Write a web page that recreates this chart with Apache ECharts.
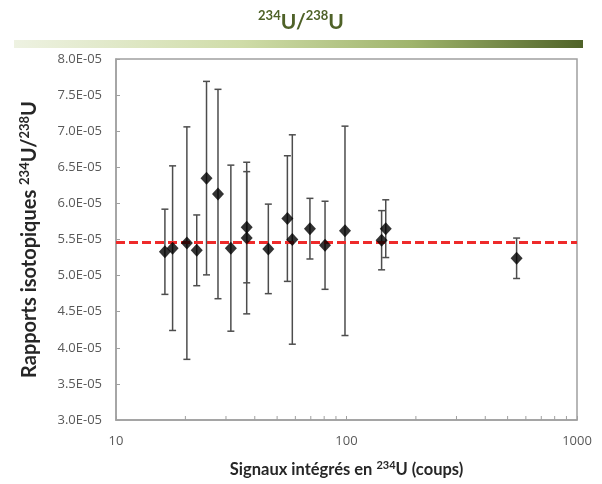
<!DOCTYPE html>
<html>
<head>
<meta charset="utf-8">
<script src="https://cdn.jsdelivr.net/npm/echarts@6/dist/echarts.min.js"></script>
<style>html,body{margin:0;padding:0;background:#fff}#c{width:602px;height:484px}</style>
</head>
<body>
<div id="c"></div>
<script>
// Signal (counts) for each measurement
const signals = [16.3, 17.6, 20.3, 22.4, 24.7, 27.7, 31.5, 36.9, 36.9, 45.8, 55.4, 58.2, 69.4, 80.7, 98.5, 142, 148, 547];
// 234U/238U ratios, in units of 1E-05
const ratios = [5.33, 5.38, 5.45, 5.35, 6.35, 6.13, 5.38, 5.67, 5.52, 5.37, 5.79, 5.50, 5.65, 5.42, 5.62, 5.49, 5.65, 5.24];
// error half-width, in units of 1E-05
const errors = [0.59, 1.14, 1.61, 0.49, 1.34, 1.45, 1.15, 0.77, 1.05, 0.62, 0.87, 1.45, 0.42, 0.61, 1.45, 0.41, 0.40, 0.28];
// mean ratio (red dashed line), units of 1E-05
const meanRatio = 5.46;
// x axis minor tick values
const xMinorTicks = [20, 30, 40, 50, 60, 70, 80, 90, 200, 300, 400, 500, 600, 700, 800, 900];
const UNIT = 1e-5;

const pts = signals.map((s, i) => [s, ratios[i] * UNIT]);
const bars = signals.map((s, i) => [s, (ratios[i] - errors[i]) * UNIT, (ratios[i] + errors[i]) * UNIT]);

const chart = echarts.init(document.getElementById('c'));
const titleFont = 'Lato, "Open Sans", sans-serif';
chart.setOption({
  animation: false,
  title: {
    left: 'center', top: 4,
    text: '{s|234}{b|U/}{s|238}{b|U}',
    textStyle: {
      rich: {
        b: {fontSize: 21, fontWeight: 'bold', color: '#4f6228', fontFamily: titleFont, lineHeight: 26},
        s: {fontSize: 13, fontWeight: 'bold', color: '#4f6228', fontFamily: titleFont, lineHeight: 15, verticalAlign: 'top'}
      }
    }
  },
  graphic: [{
    type: 'rect', left: 14, top: 40, z: 0,
    shape: {width: 569, height: 8},
    style: {fill: new echarts.graphic.LinearGradient(0, 0, 1, 0, [
      {offset: 0, color: '#eef2e2'},
      {offset: 0.4, color: '#cfdca8'},
      {offset: 0.7, color: '#9fb46c'},
      {offset: 1, color: '#4f6228'}
    ])}
  }],
  grid: {left: 116, right: 25, top: 59, bottom: 64, show: true, borderColor: '#a0a0a0', borderWidth: 1.5, containLabel: false},
  xAxis: {
    type: 'log', logBase: 10, min: 10, max: 1000,
    axisLine: {show: true, lineStyle: {color: '#a0a0a0', width: 1.5}},
    axisTick: {show: true, inside: true, length: 4, lineStyle: {color: '#a0a0a0'}},
    splitLine: {show: false},
    axisLabel: {color: '#595959', fontSize: 13, fontFamily: '"Open Sans", sans-serif', margin: 15,
      formatter: v => String(Math.round(v))},
    name: '{b|Signaux intégrés en }{s|234}{b|U (coups)}',
    nameLocation: 'middle', nameGap: 40,
    nameTextStyle: {
      rich: {
        b: {fontSize: 16.5, fontWeight: 'bold', color: '#262626', fontFamily: titleFont, lineHeight: 20},
        s: {fontSize: 11, fontWeight: 'bold', color: '#262626', fontFamily: titleFont, lineHeight: 12, verticalAlign: 'top'}
      }
    }
  },
  yAxis: {
    type: 'value', min: 3.0e-5, max: 8.0e-5, interval: 0.5e-5,
    axisLine: {show: true, lineStyle: {color: '#a0a0a0', width: 1.5}},
    axisTick: {show: true, inside: true, length: 4, lineStyle: {color: '#a0a0a0'}},
    splitLine: {show: false},
    axisLabel: {
      color: '#595959', fontSize: 13, fontFamily: '"Open Sans", sans-serif', margin: 14,
      formatter: v => (v / UNIT).toFixed(1) + 'E-05'
    },
    name: '{b|Rapports isotopiques }{s|234}{b|U/}{s|238}{b|U}',
    nameLocation: 'middle', nameRotate: 90, nameGap: 74,
    nameTextStyle: {
      rich: {
        b: {fontSize: 20, fontWeight: 'bold', color: '#262626', fontFamily: titleFont, lineHeight: 24},
        s: {fontSize: 13, fontWeight: 'bold', color: '#262626', fontFamily: titleFont, lineHeight: 14, verticalAlign: 'top'}
      }
    }
  },
  series: [
    {
      type: 'custom', z: 1, silent: true,
      data: bars,
      encode: {x: 0, y: [1, 2]},
      renderItem: function (params, api) {
        const x = api.value(0);
        const pLo = api.coord([x, api.value(1)]);
        const pHi = api.coord([x, api.value(2)]);
        const w = 3.5;
        const st = {stroke: '#4d4d4d', lineWidth: 1.5};
        return {type: 'group', children: [
          {type: 'line', shape: {x1: pLo[0], y1: pLo[1], x2: pHi[0], y2: pHi[1]}, style: st},
          {type: 'line', shape: {x1: pLo[0] - w, y1: pLo[1], x2: pLo[0] + w, y2: pLo[1]}, style: st},
          {type: 'line', shape: {x1: pHi[0] - w, y1: pHi[1], x2: pHi[0] + w, y2: pHi[1]}, style: st}
        ]};
      }
    },
    {
      type: 'custom', z: 1, silent: true,
      data: xMinorTicks.map(v => [v, 3.0e-5]),
      encode: {x: 0, y: 1},
      renderItem: function (params, api) {
        const p = api.coord([api.value(0), api.value(1)]);
        return {type: 'line', shape: {x1: p[0], y1: p[1], x2: p[0], y2: p[1] - 4}, style: {stroke: '#a0a0a0', lineWidth: 1}};
      }
    },
    {
      type: 'line', z: 2, silent: true, symbol: 'none',
      data: [[10, meanRatio * UNIT], [1000, meanRatio * UNIT]],
      lineStyle: {color: '#ee2a2a', width: 3, type: [9, 4]}
    },
    {
      type: 'scatter', z: 3,
      data: pts,
      symbol: 'diamond', symbolSize: [12, 13],
      itemStyle: {color: '#000'}
    }
  ]
});
</script>
</body>
</html>
